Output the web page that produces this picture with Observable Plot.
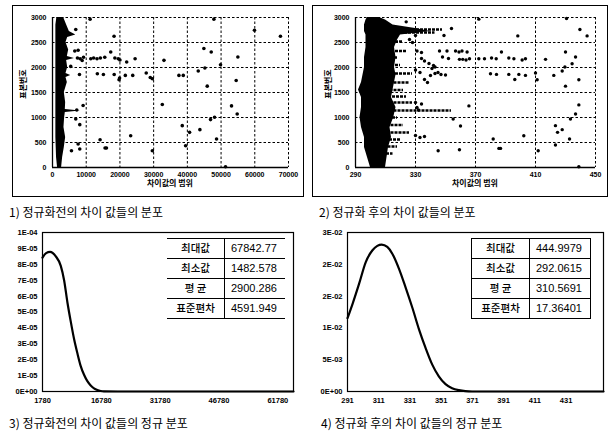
<!DOCTYPE html>
<html><head><meta charset="utf-8">
<script src="https://cdn.jsdelivr.net/npm/d3@7"></script>
<script src="https://cdn.jsdelivr.net/npm/@observablehq/plot@0.6"></script>
<style>
body{margin:0;background:#fff;width:609px;height:434px;position:relative;overflow:hidden;font-family:"Noto Sans CJK KR",sans-serif;color:#000;}
.frame{position:absolute;border:1px solid #000;box-sizing:border-box;}
.cap{position:absolute;font-size:12px;white-space:nowrap;line-height:1;}
.axt{position:absolute;font-size:8px;font-weight:bold;white-space:nowrap;line-height:1;}
.roty{position:absolute;font-size:8px;font-weight:bold;white-space:nowrap;line-height:1;transform:translate(-50%,-50%) rotate(-90deg);}
table.st{position:absolute;border-collapse:collapse;font-size:10.5px;}
table.st td{height:19px;padding:0;line-height:1;}
table.st td.k{text-align:center;width:57px;font-family:"Noto Sans CJK KR";font-weight:500;}
table.st td.v{text-align:left;padding-left:6px;width:54px;font-family:"Liberation Sans",Arial,sans-serif;font-size:11px;}
</style></head>
<body>
<script>
// ---------- Panel 1 : before normalisation (scatter) ----------
const xTicks1 = [0,10000,20000,30000,40000,50000,60000,70000];
const yTicksTop = [0,500,1000,1500,2000,2500,3000];
const band1Y  = [0,200,400,600,800,1000,1100,1130,1160,1300,1500,1700,1800,1840,1880,2000,2140,2180,2220,2350,2500,2600,2650,2720,2850,3000];
const band1X1 = [1500,1200,1100,1000,1000,1000,1000,1000,1000,1000,1000,1000,1000,1000,1000,1000,1000,1000,1000,1000,1000,1000,1000,1000,1000,1300];
const band1X2 = [2700,3000,3500,3900,3400,3600,3800,8300,3800,3900,3500,4400,4000,5400,4000,4500,4200,6500,4400,4800,4000,4500,6900,5000,4200,3300];
const out1X = [11150,6900,18260,17270,6610,7600,7400,8200,9200,11350,12200,13200,14200,15500,18500,19500,22000,24500,20000,8800,33060,5400,8000,13300,15100,18300,21600,23800,27800,19740,19900,29610,29000,37500,38790,43230,45200,47080,44900,49840,45900,54980,59910,67610,47870,54480,32570,53100,54780,48070,46880,38490,43720,40660,23190,14110,48660,39480,15590,16000,29610,51320,9080,8090,7600,8090,5630,6900,7200];
const out1Y = [2967,2760,2625,2310,2330,2344,2190,2175,2205,2175,2190,2175,2190,2205,2190,2175,2110,2175,2150,2140,2143,2022,1860,1875,1860,1860,1842,1842,1889,1755,1790,1775,1800,1842,1842,1930,1990,2310,2380,2056,1627,2210,2746,2625,2967,1741,1259,1232,1071,1005,958,837,757,703,636,556,570,436,389,389,335,14,1239,857,469,369,335,971,1150];

// ---------- Panel 2 : after normalisation (scatter) ----------
const xTicks2 = [290,330,370,410,450];
const band2Y  = [0,200,400,600,800,1000,1200,1400,1550,1700,1850,2000,2200,2400,2550,2650,2720,2780,2850,2950,3000];
const band2X1 = [300,298,296,296,294,293,294,294,292,294,295,296,296,297,297,297,296,296,296,297,298];
const band2X2 = [310,311,312,314,313,315.5,317,314,315,316,317,316,317,316,318,320,340,330,315,310,306];
const streakY  = [2760,2700,2520,2330,2200,2050,1880,1700,1550,1420,1300,1140,1000,850,700,560,420,280];
const streakX1 = [320,320,314,314,314,314,314,313,313,312,313,313,312,311,311,310,309,308];
const streakX2 = [348,343,322,324,318,320,328,326,322,324,328,354,318,322,326,320,318,315];
const out2X = [323.8,354,372.2,398.2,430.7,439.6,444.4,356.7,359,361,364.4,351,372.2,376,380.7,383.8,387.3,392.2,395.6,401.1,403.3,416.7,430,434.4,436.7,359.3,361.5,363.7,366,380,384,392.2,396.2,398.9,403.3,410,411.1,422.2,427.8,429.6,430,438.9,438.9,436.7,433.3,365.6,355.1,360,423.3,427.8,424.7,402.2,381.8,432.7,385.6,386.7,423.3,345.1,359.3,411.8,438.9,334,336,339,341,343,345,347,336,338,331,334,352,348,330,333,346,340,332,331,330,333,336,330,334,328,326,330,349,343,342,350];
const out2Y = [2913,2779,2967,2632,2980,2759,2632,2330,2310,2330,2310,2330,2176,2176,2190,2176,2310,2190,2176,2150,2176,2163,2310,2076,2210,2163,2163,2150,2176,1875,1862,1862,1761,1862,1842,1889,1755,1842,1929,2009,1627,1755,1252,1071,970,1232,971,830,837,757,703,636,570,570,382,382,449,335,355,335,14,2180,2130,2080,1980,1880,1900,1860,1760,1700,2330,2300,2180,2210,1950,1900,2330,1840,1150,1200,640,600,620,1300,1270,2500,2560,2640,2640,2010,2040,1850];

// ---------- Panel 3 : normal curve before normalisation ----------
const xTicks3 = [1780,16780,31780,46780,61780];
const yTicks3 = [0,1e-5,2e-5,3e-5,4e-5,5e-5,6e-5,7e-5,8e-5,9e-5,1e-4];
const yLabels3 = ["0E+00","1E-05","2E-05","3E-05","4E-05","5E-05","6E-05","7E-05","8E-05","9E-05","1E-04"];
const curve3X = [1780,2700,3729,5170,6441,7289,8136,8984,9831,10679,11526,12374,13221,14069,14916,15764,16611,17459,25000,40000,55000,65780];
const curve3Y = [8.42e-5,8.7e-5,8.78e-5,8.5e-5,7.9e-5,7.0e-5,5.6e-5,4.4e-5,3.3e-5,2.4e-5,1.6e-5,1.05e-5,0.65e-5,0.38e-5,0.2e-5,0.09e-5,0.03e-5,0.005e-5,0,0,0,0];
const stat3Keys = ["최대값","최소값","평 균","표준편차"];
const stat3Vals = ["67842.77","1482.578","2900.286","4591.949"];

// ---------- Panel 4 : normal curve after normalisation ----------
const xTicks4 = [291,311,331,351,371,391,411,431];
const yTicks4 = [0,0.005,0.01,0.015,0.02,0.025];
const yLabels4 = ["0E+00","5E-03","1E-02","2E-02","2E-02","3E-02"];
const curve4X = [291,294.2,298.4,302.7,307.0,310.1,312.9,316.5,319.7,324.0,328.2,332.5,336.8,341.0,345.3,349.5,353.8,358.0,362.3,366.5,370.8,400,430,455];
const curve4Y = [0.01152,0.01374,0.01691,0.02035,0.0222,0.02289,0.0231,0.02273,0.02167,0.01929,0.01638,0.01321,0.00978,0.00687,0.00423,0.00238,0.00116,0.00053,0.00021,0.00005,0,0,0,0];
const stat4Keys = ["최대값","최소값","평 균","표준편차"];
const stat4Vals = ["444.9979","292.0615","310.5691","17.36401"];

// ---------- helpers ----------
const zip = (a,b,ka,kb) => a.map((v,i)=>({[ka]:v,[kb]:b[i]}));
function place(el,left,top){el.style.position="absolute";el.style.left=left+"px";el.style.top=top+"px";document.body.appendChild(el);}
function div(cls,text,left,top,extra){const d=document.createElement("div");d.className=cls;d.textContent=text;d.style.left=left+"px";d.style.top=top+"px";if(extra)Object.assign(d.style,extra);document.body.appendChild(d);return d;}
const tickStyle = {fontFamily:"'Liberation Sans',Arial,sans-serif",fontSize:"7px",fontWeight:"bold",background:"transparent",overflow:"visible"};
const dash = {stroke:"#000",strokeOpacity:1,strokeWidth:1,strokeDasharray:"2.5,2"};

// frames of top panels
const f1=document.createElement("div");f1.className="frame";Object.assign(f1.style,{left:"12px",top:"5px",width:"292px",height:"192px"});document.body.appendChild(f1);
const f2=document.createElement("div");f2.className="frame";Object.assign(f2.style,{left:"312px",top:"5px",width:"296px",height:"192px"});document.body.appendChild(f2);

// Panel 1
const band1 = band1Y.map((y,i)=>({y,x1:band1X1[i],x2:band1X2[i]}));
const out1 = zip(out1X,out1Y,"x","y");
const p1 = Plot.plot({
  width:305,height:200,marginLeft:52,marginRight:17,marginTop:17,marginBottom:33,
  x:{domain:[0,70000]}, y:{domain:[0,3000]}, style:tickStyle,
  marks:[
    Plot.gridX(xTicks1.slice(1),dash),
    Plot.gridY(yTicksTop.slice(1),dash),
    Plot.areaX(band1,{y:"y",x1:"x1",x2:"x2",fill:"#000"}),
    Plot.dot(out1,{x:"x",y:"y",r:1.8,fill:"#000"}),
    Plot.ruleX([0],{stroke:"#000",strokeWidth:1.3}),
    Plot.ruleY([0],{stroke:"#000",strokeWidth:1.3}),
    Plot.axisX(xTicks1,{tickSize:0,tickPadding:5,label:null,tickFormat:d=>String(d)}),
    Plot.axisY(yTicksTop,{tickSize:0,tickPadding:6,label:null,tickFormat:d=>String(d)})
  ]
});
place(p1,0,0);
div("axt","차이값의 범위",170,179,{transform:"translateX(-50%)"});
div("roty","표본번호",23,84);

// Panel 2
const band2 = band2Y.map((y,i)=>({y,x1:band2X1[i],x2:band2X2[i]}));
const streaks = streakY.map((y,i)=>({y,x1:streakX1[i],x2:streakX2[i]}));
const out2 = zip(out2X,out2Y,"x","y");
const p2 = Plot.plot({
  width:304,height:200,marginLeft:50,marginRight:14,marginTop:17,marginBottom:33,
  x:{domain:[290,450]}, y:{domain:[0,3000]}, style:tickStyle,
  marks:[
    Plot.gridX(xTicks2.slice(1),dash),
    Plot.gridY(yTicksTop.slice(1),dash),
    Plot.areaX(band2,{y:"y",x1:"x1",x2:"x2",fill:"#000"}),
    Plot.ruleY(streaks,{y:"y",x1:"x1",x2:"x2",stroke:"#000",strokeWidth:2.4,strokeDasharray:"3,1"}),
    Plot.dot(out2,{x:"x",y:"y",r:1.7,fill:"#000"}),
    Plot.ruleX([290],{stroke:"#000",strokeWidth:1.3}),
    Plot.ruleY([0],{stroke:"#000",strokeWidth:1.3}),
    Plot.axisX(xTicks2,{tickSize:0,tickPadding:5,label:null,tickFormat:d=>String(d)}),
    Plot.axisY(yTicksTop,{tickSize:0,tickPadding:6,label:null,tickFormat:d=>String(d)})
  ]
});
place(p2,305,0);
div("axt","차이값의 범위",475,179,{transform:"translateX(-50%)"});
div("roty","표본번호",328,84);

// captions
div("cap","1) 정규화전의 차이 값들의 분포",9,206);
div("cap","2) 정규화 후의 차이 값들의 분포",319,206);
div("cap","3) 정규화전의 차이 값들의 정규 분포",9,417);
div("cap","4) 정규화 후의 차이 값들의 정규 분포",321,417);

// Panel 3
const lab3 = new Map(yTicks3.map((t,i)=>[t,yLabels3[i]]));
const p3 = Plot.plot({
  width:305,height:200,marginLeft:42,marginRight:12,marginTop:17,marginBottom:24,
  x:{domain:[1780,65780]}, y:{domain:[0,1e-4]},
  style:{...tickStyle,fontSize:"7.5px"},
  marks:[
    Plot.frame({stroke:"#000",strokeWidth:1.2}),
    Plot.line(zip(curve3X,curve3Y,"x","y"),{x:"x",y:"y",stroke:"#000",strokeWidth:2.2,curve:"monotone-x"}),
    Plot.axisX(xTicks3,{tickSize:0,tickPadding:6,label:null,tickFormat:d=>String(d)}),
    Plot.axisY(yTicks3,{tickSize:0,tickPadding:5,label:null,tickFormat:d=>lab3.get(d)})
  ]
});
place(p3,0,215);

// Panel 4
const lab4 = new Map(yTicks4.map((t,i)=>[t,yLabels4[i]]));
const p4 = Plot.plot({
  width:304,height:200,marginLeft:42,marginRight:6,marginTop:17,marginBottom:24,
  x:{domain:[291,455]}, y:{domain:[0,0.025]},
  style:{...tickStyle,fontSize:"7.5px"},
  marks:[
    Plot.frame({stroke:"#000",strokeWidth:1.2}),
    Plot.line(zip(curve4X,curve4Y,"x","y"),{x:"x",y:"y",stroke:"#000",strokeWidth:2.2,curve:"monotone-x"}),
    Plot.axisX(xTicks4,{tickSize:0,tickPadding:6,label:null,tickFormat:d=>String(d)}),
    Plot.axisY(yTicks4,{tickSize:0,tickPadding:5,label:null,tickFormat:d=>lab4.get(d)})
  ]
});
place(p4,305,215);

// stats tables
function table(keys,vals,left,top,full){
  const t=document.createElement("table");t.className="st";
  t.style.left=left+"px";t.style.top=top+"px";
  keys.forEach((k,i)=>{
    const tr=document.createElement("tr");
    const a=document.createElement("td");a.className="k";a.textContent=k;
    const b=document.createElement("td");b.className="v";b.textContent=vals[i];
    a.style.borderTop=a.style.borderBottom="1px solid #000";
    b.style.borderTop=b.style.borderBottom="1px solid #000";
    b.style.borderLeft="1px solid #000";
    if(full){a.style.borderLeft="1px solid #000";b.style.borderRight="1px solid #000";}
    tr.appendChild(a);tr.appendChild(b);t.appendChild(tr);
  });
  document.body.appendChild(t);
}
table(stat3Keys,stat3Vals,167,238,false);
table(stat4Keys,stat4Vals,471,238,true);
</script>
</body></html>
